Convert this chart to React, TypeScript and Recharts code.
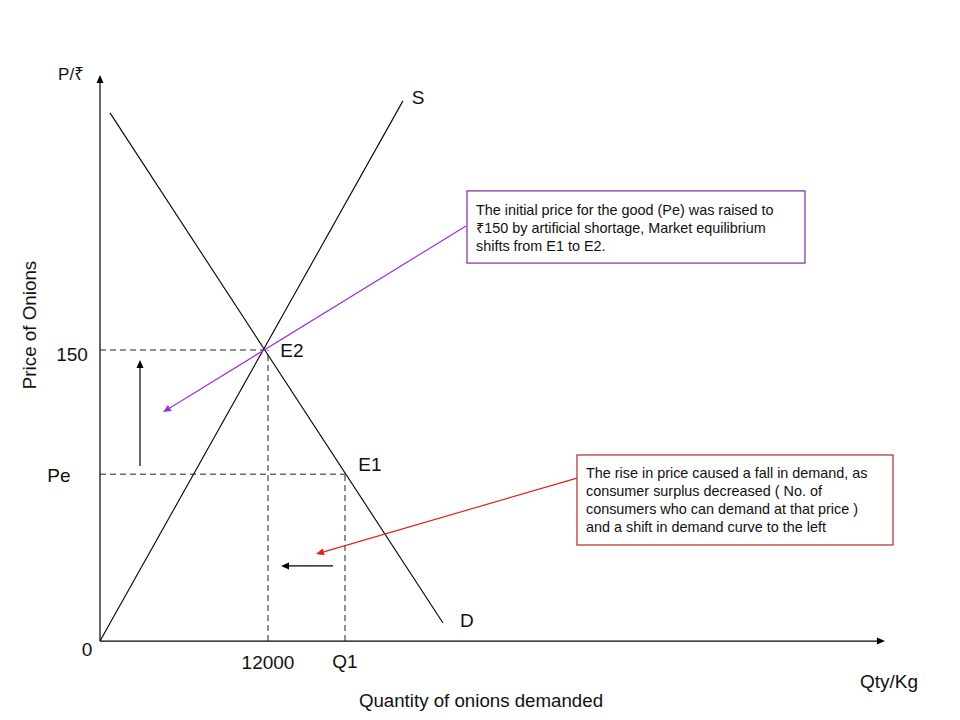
import React from 'react';
import {
  ComposedChart,
  XAxis,
  YAxis,
  ReferenceLine,
  ReferenceDot,
  ReferenceArea,
} from 'recharts';

// ---- data (quantity q in kg, price p in ₹) ----
const supplyCurve = [
  { q: 0, p: 0 },
  { q: 21640, p: 278.4 },
];
const demandCurve = [
  { q: 714, p: 272.2 },
  { q: 24500, p: 9.3 },
];
const equilibriumE2 = { q: 11700, p: 150 };
const priceLevels = [150, 86]; // raised price, Pe
const quantityLevels = [12000, 17500]; // 12000, Q1
const axisExtent = { q: 56070, p: 291.8 };

const priceArrow = [
  { q: 2857, p: 90.2 },
  { q: 2857, p: 144.8 },
];
const quantityArrow = [
  { q: 16643, p: 38.7 },
  { q: 12929, p: 38.7 },
];
const purplePointer = [
  { q: 26143, p: 213.9 },
  { q: 4500, p: 118 },
];
const redPointer = [
  { q: 34071, p: 84.0 },
  { q: 15429, p: 44.8 },
];

const purpleBox = { q1: 26214, q2: 50357, p1: 194.8, p2: 232.0 };
const redBox = { q1: 34071, q2: 56643, p1: 49.5, p2: 95.9 };

const purpleNote = [
  'The initial price for the good (Pe) was raised to',
  '₹150 by artificial shortage, Market equilibrium',
  'shifts from E1 to E2.',
];
const redNote = [
  'The rise in price caused a fall in demand, as',
  'consumer surplus decreased ( No. of',
  'consumers who can demand at that price )',
  'and a shift in demand curve to the left',
];

const textLabels = [
  { q: -2071, p: 291.8, text: 'P/₹', size: 17 },
  { q: 22714, p: 280.4, text: 'S', size: 19 },
  { q: 26214, p: 10.8, text: 'D', size: 19 },
  { q: 13714, p: 150, text: 'E2', size: 19 },
  { q: 19286, p: 91.2, text: 'E1', size: 19 },
  { q: -2000, p: 147.9, text: '150', size: 19 },
  { q: -2929, p: 85.1, text: 'Pe', size: 19 },
  { q: -929, p: -4.6, text: '0', size: 19 },
  { q: 12000, p: -11.3, text: '12000', size: 19 },
  { q: 17500, p: -10.8, text: 'Q1', size: 19 },
  { q: 56357, p: -21.1, text: 'Qty/Kg', size: 19 },
  { q: 27214, p: -30.9, text: 'Quantity of onions demanded', size: 18.7 },
];
const yTitle = { q: -5000, p: 162.9, text: 'Price of Onions' };

const FONT = '"Liberation Sans", Arial, "Noto Sans", "DejaVu Sans", sans-serif';

const arrowLine = (color: string, head: boolean) => (props: any) => {
  const { x1, y1, x2, y2 } = props;
  if (!head) {
    return <line x1={x1} y1={y1} x2={x2} y2={y2} stroke={color} strokeWidth={1.1} />;
  }
  const ang = Math.atan2(y2 - y1, x2 - x1);
  const L = 8;
  const W = 3.5;
  const bx = x2 - L * Math.cos(ang);
  const by = y2 - L * Math.sin(ang);
  const pts = `${x2},${y2} ${bx + W * Math.sin(ang)},${by - W * Math.cos(ang)} ${bx - W * Math.sin(ang)},${by + W * Math.cos(ang)}`;
  return (
    <g>
      <line x1={x1} y1={y1} x2={bx} y2={by} stroke={color} strokeWidth={1.2} />
      <polygon points={pts} fill={color} />
    </g>
  );
};

const noteBox = (lines: string[], border: string, firstOffset: number) => (props: any) => {
  const { x, y, width, height } = props;
  return (
    <g>
      <rect x={x} y={y} width={width} height={height} fill="#fff" stroke={border} strokeWidth={1.2} />
      {lines.map((t, i) => (
        <text
          key={i}
          x={x + 9}
          y={y + firstOffset + i * 18}
          dominantBaseline="central"
          fontSize={14.4}
          fontFamily={FONT}
          fill="#111"
        >
          {t}
        </text>
      ))}
    </g>
  );
};

const dashed = { stroke: '#222', strokeWidth: 1, strokeDasharray: '6 4' };
const toSeg = (pts: { q: number; p: number }[]) => pts.map((d) => ({ x: d.q, y: d.p }));

export default function App() {
  return (
    <div style={{ position: 'absolute', left: 0, top: 0, background: '#fff' }}>
      <ComposedChart width={960} height={720} margin={{ top: 0, right: 0, bottom: 0, left: 0 }}>
        <XAxis dataKey="q" type="number" domain={[-7143, 61430]} allowDataOverflow hide />
        <YAxis type="number" domain={[-40.7, 330.4]} allowDataOverflow hide />

        {/* axes */}
        <ReferenceLine
          segment={[{ x: 0, y: 0 }, { x: 0, y: axisExtent.p }]}
          shape={arrowLine('#000', true)}
        />
        <ReferenceLine
          segment={[{ x: 0, y: 0 }, { x: axisExtent.q, y: 0 }]}
          shape={arrowLine('#000', true)}
        />

        {/* guide lines */}
        <ReferenceLine segment={[{ x: 0, y: priceLevels[0] }, { x: equilibriumE2.q, y: priceLevels[0] }]} {...dashed} />
        <ReferenceLine segment={[{ x: 0, y: priceLevels[1] }, { x: quantityLevels[1], y: priceLevels[1] }]} {...dashed} />
        <ReferenceLine segment={[{ x: quantityLevels[0], y: 0 }, { x: quantityLevels[0], y: priceLevels[0] }]} {...dashed} />
        <ReferenceLine segment={[{ x: quantityLevels[1], y: 0 }, { x: quantityLevels[1], y: priceLevels[1] }]} {...dashed} />

        {/* supply and demand curves */}
        <ReferenceLine segment={toSeg(supplyCurve)} shape={arrowLine('#000', false)} />
        <ReferenceLine segment={toSeg(demandCurve)} shape={arrowLine('#000', false)} />

        {/* arrows */}
        <ReferenceLine segment={toSeg(priceArrow)} shape={arrowLine('#000', true)} />
        <ReferenceLine segment={toSeg(quantityArrow)} shape={arrowLine('#000', true)} />
        <ReferenceLine segment={toSeg(purplePointer)} shape={arrowLine('#9b30d9', true)} />
        <ReferenceLine segment={toSeg(redPointer)} shape={arrowLine('#e0201c', true)} />

        {/* note boxes */}
        <ReferenceArea
          x1={purpleBox.q1}
          x2={purpleBox.q2}
          y1={purpleBox.p1}
          y2={purpleBox.p2}
          shape={noteBox(purpleNote, '#7e2c9e', 19)}
        />
        <ReferenceArea
          x1={redBox.q1}
          x2={redBox.q2}
          y1={redBox.p1}
          y2={redBox.p2}
          shape={noteBox(redNote, '#b02a2a', 18)}
        />

        {/* text labels */}
        {textLabels.map((l, i) => (
          <ReferenceDot
            key={i}
            x={l.q}
            y={l.p}
            r={0}
            shape={(props: any) => (
              <text
                x={props.cx}
                y={props.cy}
                textAnchor="middle"
                dominantBaseline="central"
                fontSize={l.size}
                fontFamily={FONT}
                fill="#111"
              >
                {l.text}
              </text>
            )}
          />
        ))}
        <ReferenceDot
          x={yTitle.q}
          y={yTitle.p}
          r={0}
          shape={(props: any) => (
            <text
              x={props.cx}
              y={props.cy}
              textAnchor="middle"
              dominantBaseline="central"
              fontSize={18.8}
              fontFamily={FONT}
              fill="#111"
              transform={`rotate(-90 ${props.cx} ${props.cy})`}
            >
              {yTitle.text}
            </text>
          )}
        />
      </ComposedChart>
    </div>
  );
}
